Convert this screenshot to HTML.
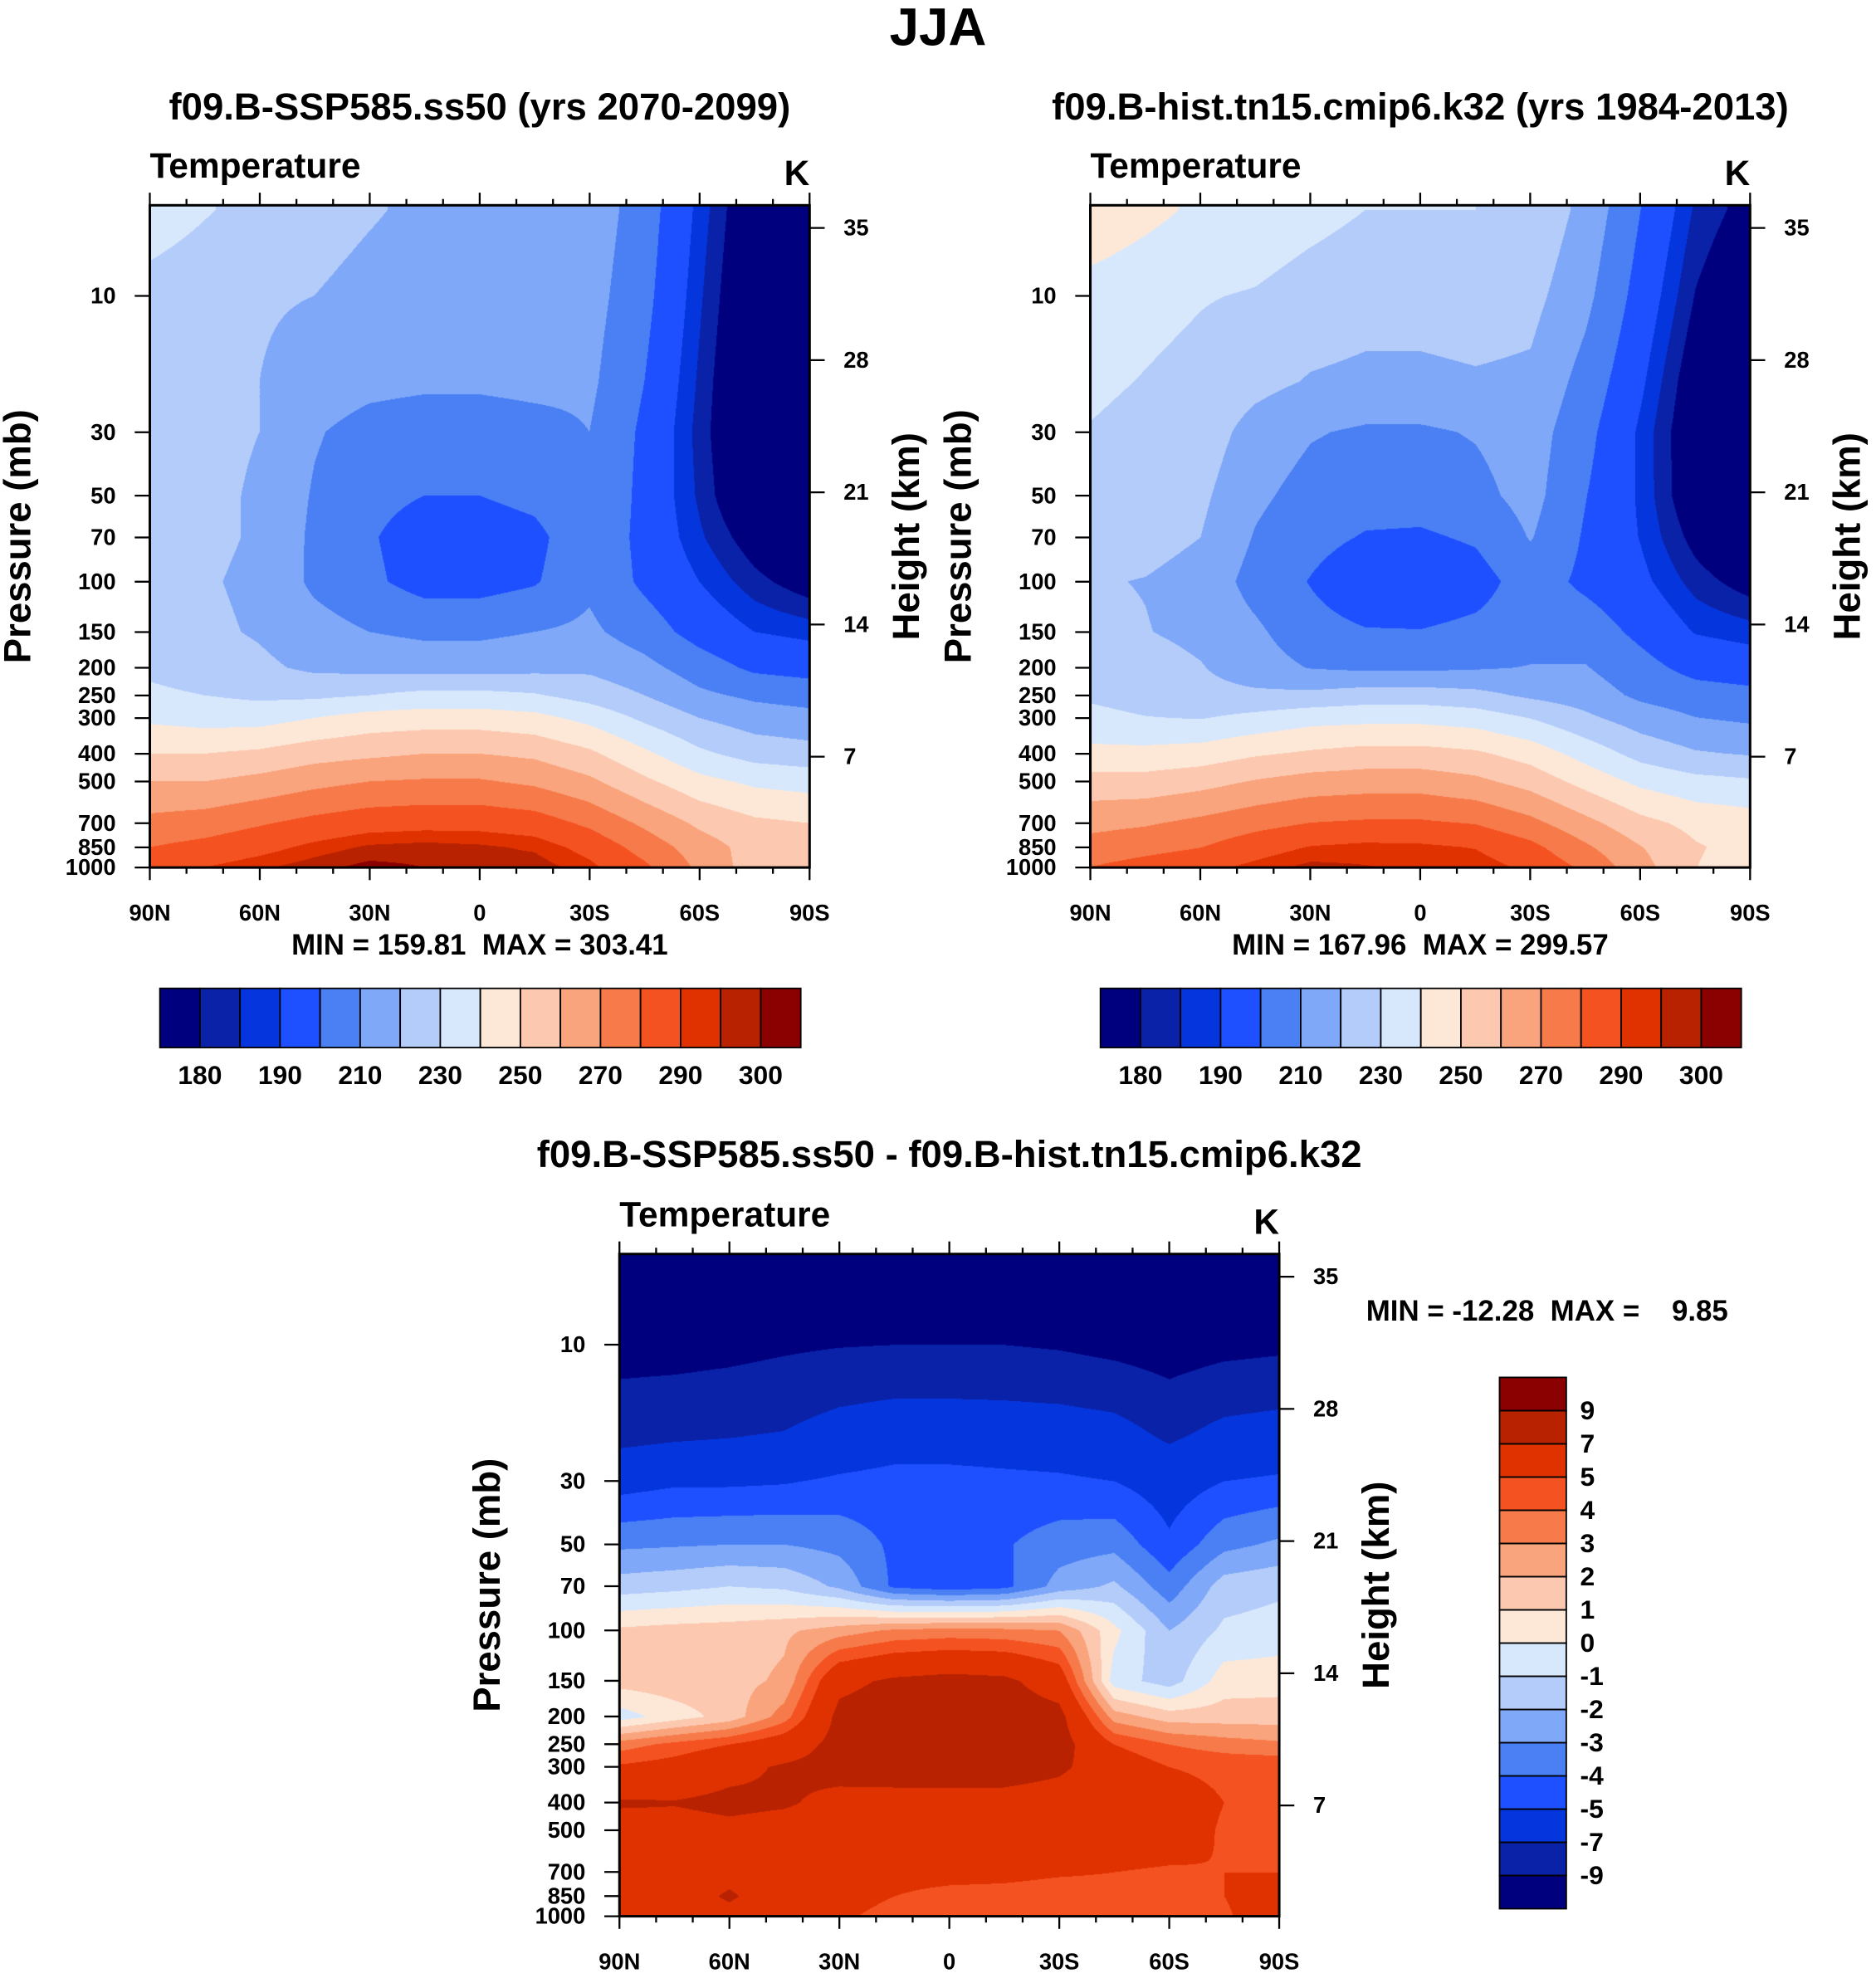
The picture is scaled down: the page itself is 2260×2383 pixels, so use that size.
<!DOCTYPE html>
<html><head><meta charset="utf-8"><style>
body{margin:0;background:#fff}
#wrap{position:relative;width:2260px;height:2383px;overflow:hidden;background:#fff}
svg{position:absolute;left:0;top:0}
canvas{position:absolute}
text{font-family:"Liberation Sans",sans-serif;font-weight:bold;fill:#000;white-space:pre}
</style></head><body>
<div id="wrap">
<canvas id="c1"></canvas>
<canvas id="c2"></canvas>
<canvas id="c3"></canvas>
<svg id="svg" width="2260" height="2383" viewBox="0 0 1490 1571"></svg>
</div>
<script>
// ---- data ----
const lats = [90,75,60,45,30,15,0,-15,-30,-45,-60,-75,-90];
const pressures = [5,10,20,30,50,70,100,150,200,250,300,400,500,700,850,1000];
const future = [
[236,231,226,224,221,218,218,218,216,205,188,172,165],
[226,223,221,220,217,215,215,216,214,203,186,170,162],
[224,222,220,216,213,212,212,213,212,200,184,168,160],
[224,222,220,211,206,204,204,206,210,198,183,168,160],
[223,222,219,209,203,200,200,203,210,197,184,170,162],
[222,222,219,208,201,195,194,197,208,197,186,176,168],
[222,221,218,208,202,196,196,199,208,198,190,182,176],
[224,222,219,214,210,208,208,210,212,205,196,190,188],
[228,225,222,218,217,216,216,217,218,213,205,198,196],
[232,230,228,228,230,233,233,231,226,220,212,208,206],
[238,236,236,240,244,245,245,243,237,228,220,215,213],
[250,250,252,256,258,260,260,258,252,242,232,226,224],
[260,260,263,267,270,271,271,268,262,252,243,238,236],
[273,275,279,283,286,287,287,285,278,268,258,252,250],
[280,283,287,292,296,297,296,294,287,276,265,256,252],
[286,290,294,298,302,300,298,298,292,282,268,255,250]];
const diff = [
[-12,-12,-12,-12,-12,-12,-12,-12,-12,-12,-12,-12,-12],
[-9.8,-9.8,-9.6,-9.3,-9.1,-9,-9,-9,-9.2,-9.6,-10,-9.6,-9.4],
[-7.8,-7.5,-7.3,-7,-6.2,-5.8,-5.8,-5.9,-6,-6.3,-7.5,-6.5,-6.2],
[-5.5,-5.2,-5.2,-5.1,-4.8,-4.6,-4.6,-4.7,-4.8,-5,-5.6,-5,-4.8],
[-3.2,-3.1,-3,-3,-3.3,-4.2,-4.3,-4.1,-3.5,-3.3,-4.8,-3.3,-2.8],
[-1.5,-1.3,-1,-1.2,-2.2,-4.2,-4.6,-4.3,-2.6,-1.8,-3.6,-1.5,-1.2],
[1.2,1.4,1.5,1.8,2.5,3.2,3.4,3.3,3.0,0.3,-2,-0.8,-0.6],
[1.4,1.6,1.6,2.2,6.5,7.3,7.6,7.4,6.0,-0.5,-1.5,0.5,0.6],
[-0.5,0.5,1.4,3.5,7.5,8,8,8,7.6,2.5,1.5,1.5,1.5],
[3.5,4.3,5,6,7.6,8.1,8,8,7.8,5,4,3.5,3.2],
[5.2,5.6,6.5,7.2,7.6,7.8,7.8,7.8,7.3,6,5,4.8,4.8],
[7.2,7.1,7.4,7.2,6.5,6.4,6.4,6.4,6.2,6,5.5,5,4.8],
[6.2,6.3,6.6,6.3,6,5.8,5.8,5.8,5.9,5.6,5.5,4.9,4.8],
[6,6.1,6.5,6.3,5.8,5.6,5.6,5.5,5.2,5,4.9,5,5],
[6,6.2,7.2,6.1,5.5,5,4.5,4.4,4.2,4.4,4.6,5,5.8],
[5.8,6,6.5,5.8,5.2,4.6,4.2,4.2,4,4,4.3,4.8,6]];
const hist = future.map((r,i)=>r.map((v,j)=>v-diff[i][j]));
const tLevels = [180,185,190,200,210,220,230,240,250,260,270,280,290,295,300];
const tLabels = ["180","190","210","230","250","270","290","300"];
const dLevels = [-9,-7,-5,-4,-3,-2,-1,0,1,2,3,4,5,7,9];
const dLabels = ["-9","-7","-5","-4","-3","-2","-1","0","1","2","3","4","5","7","9"];
const colors = ["#00007f","#0a22a8","#0535dc","#1e50ff","#4a80f4","#80a8f8","#b4ccfa","#d8e8fc","#fde8d8","#fcc8b0","#f9a47c","#f77a4a","#f55222","#e03200","#b82200","#8b0000"];
const pTicks = [10,30,50,70,100,150,200,250,300,400,500,700,850,1000];
const hTicks = [7,14,21,28,35];
const latTicks = [90,60,30,0,-30,-60,-90];
const latLabels = ["90N","60N","30N","0","30S","60S","90S"];
const stats = ["MIN = 159.81  MAX = 303.41","MIN = 167.96  MAX = 299.57","MIN = -12.28  MAX =    9.85"];

// ---- layout ----
const S = 2260/1490, W=524, H=526, DEC=227;
const panels = [
 {x:119,y:163,data:future,lev:tLevels,cv:'c1',title:"f09.B-SSP585.ss50 (yrs 2070-2099)",name:'future'},
 {x:866,y:163,data:hist,lev:tLevels,cv:'c2',title:"f09.B-hist.tn15.cmip6.k32 (yrs 1984-2013)",name:'hist'},
 {x:492,y:996,data:diff,lev:dLevels,cv:'c3',title:"f09.B-SSP585.ss50 - f09.B-hist.tn15.cmip6.k32",name:'diff'}];
const xLat = (P,lat)=>P.x + (90-lat)/180*W;
const yP = (P,p)=>P.y + H - (3-Math.log10(p))*DEC;
const yH = (P,km)=>P.y + H + 17 - 15*km;

function sample(data,lat,lp){
  let c=(90-lat)/15; c=Math.max(0,Math.min(11.9999,c)); const c0=Math.floor(c), fc=c-c0;
  const lps=pressures.map(Math.log10);
  let r0=0; if(lp<=lps[0]){r0=0;lp=lps[0];} else if(lp>=lps[lps.length-1]){r0=lps.length-2;lp=lps[lps.length-1];}
  else {while(lps[r0+1]<lp) r0++;}
  const fr=(lp-lps[r0])/(lps[r0+1]-lps[r0]);
  const a=data[r0][c0]*(1-fc)+data[r0][c0+1]*fc, b=data[r0+1][c0]*(1-fc)+data[r0+1][c0+1]*fc;
  return a*(1-fr)+b*fr;
}
const rgb=colors.map(h=>[parseInt(h.slice(1,3),16),parseInt(h.slice(3,5),16),parseInt(h.slice(5,7),16)]);
panels.forEach(P=>{
  const cv=document.getElementById(P.cv);
  const cw=Math.round(W*S), ch=Math.round(H*S);
  cv.width=cw; cv.height=ch;
  cv.style.left=Math.round(P.x*S)+'px'; cv.style.top=Math.round(P.y*S)+'px';
  const ctx=cv.getContext('2d'), img=ctx.createImageData(cw,ch);
  const lpTop=3-H/DEC;
  for(let j=0;j<ch;j++){
    const lp=lpTop+(j+0.5)/ch*(3-lpTop);
    for(let i=0;i<cw;i++){
      const lat=90-(i+0.5)/cw*180;
      const v=sample(P.data,lat,lp);
      let k=0; while(k<P.lev.length && v>=P.lev[k]) k++;
      const o=(j*cw+i)*4, c=rgb[k];
      img.data[o]=c[0];img.data[o+1]=c[1];img.data[o+2]=c[2];img.data[o+3]=255;
    }
  }
  ctx.putImageData(img,0,0);
});

// ---- svg ----
const svg=document.getElementById('svg'), NS='http://www.w3.org/2000/svg';
function el(tag,attrs,txt){const e=document.createElementNS(NS,tag);for(const k in attrs)e.setAttribute(k,attrs[k]);if(txt!==undefined)e.textContent=txt;svg.appendChild(e);return e;}
let e=el('text',{x:745,y:36,'font-size':42,'text-anchor':'middle'},'JJA');



panels.forEach((P,pi)=>{
  const ty = pi<2?95:927;
  e=el('text',{x:P.x+W/2,y:ty,'font-size':30,'text-anchor':'middle'},P.title);
  
  
  e=el('text',{x:P.x,y:P.y-22,'font-size':28},'Temperature');
  
  
  e=el('text',{x:P.x+W,y:P.y-16,'font-size':28,'text-anchor':'end'},'K');
  
  
  e=el('rect',{x:P.x,y:P.y,width:W,height:H,fill:'none',stroke:'#000','stroke-width':2});
  
  
  for(let lat=90;lat>=-90;lat-=10){
    const x=xLat(P,lat), major=lat%30===0, L=major?10:5;
    e=el('line',{x1:x,x2:x,y1:P.y,y2:P.y-L,stroke:'#000','stroke-width':1.5});
    
    
    e=el('line',{x1:x,x2:x,y1:P.y+H,y2:P.y+H+L,stroke:'#000','stroke-width':1.5});
    
    
  }
  latTicks.forEach((lat,i)=>{
    e=el('text',{x:xLat(P,lat),y:P.y+H+42,'font-size':18,'text-anchor':'middle'},latLabels[i]);
    
    
  });
  pTicks.forEach(p=>{
    const y=yP(P,p);
    e=el('line',{x1:P.x,x2:P.x-12,y1:y,y2:y,stroke:'#000','stroke-width':1.5});
    
    
    e=el('text',{x:P.x-27,y:y+6,'font-size':18,'text-anchor':'end'},String(p));
    
    
  });
  hTicks.forEach(k=>{
    const y=yH(P,k);
    e=el('line',{x1:P.x+W,x2:P.x+W+12,y1:y,y2:y,stroke:'#000','stroke-width':1.5});
    
    
    e=el('text',{x:P.x+W+27,y:y+6,'font-size':18},String(k));
    
    
  });
  const cy=P.y+H/2;
  e=el('text',{x:0,y:0,'font-size':30,'text-anchor':'middle',transform:`translate(${P.x-95},${cy}) rotate(-90)`},'Pressure (mb)');
  
  
  e=el('text',{x:0,y:0,'font-size':30,'text-anchor':'middle',transform:`translate(${P.x+W+87},${cy}) rotate(-90)`},'Height (km)');
  
  
  if(pi<2){
    e=el('text',{x:P.x+W/2,y:758,'font-size':23,'text-anchor':'middle'},stats[pi]);
    
    
    const bx=P.x+8, bw=509/16;
    colors.forEach((c,k)=>{
      e=el('rect',{x:bx+k*bw,y:785,width:bw,height:47,fill:c,stroke:'#000','stroke-width':1.2});
      
      
    });
    tLabels.forEach((t,i)=>{
      e=el('text',{x:bx+(2*i+1)*bw,y:861,'font-size':21,'text-anchor':'middle'},t);
      
      
    });
  } else {
    e=el('text',{x:1085,y:1049,'font-size':23},stats[2]);
    
    
    const by=1094, bh=422/16;
    colors.forEach((c,k)=>{
      e=el('rect',{x:1191,y:by+(15-k)*bh,width:53,height:bh,fill:c,stroke:'#000','stroke-width':1.2});
      
      
    });
    dLabels.forEach((t,i)=>{
      e=el('text',{x:1255,y:by+(15-i)*bh+7,'font-size':21},t);
      
      
    });
  }
});
</script>
</body></html>
